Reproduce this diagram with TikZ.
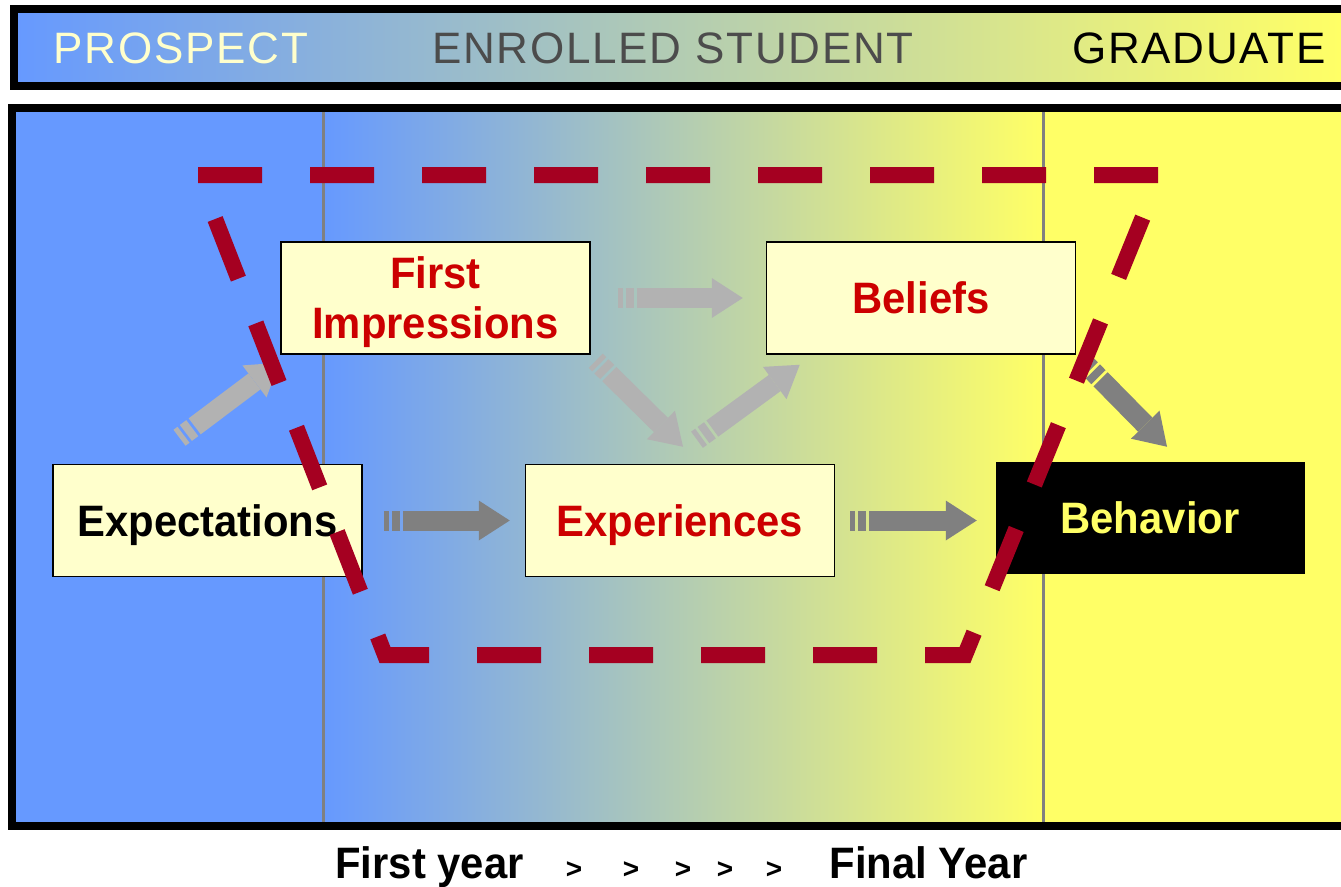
\documentclass[tikz,border=0pt]{standalone}
\usepackage{fontspec}
\setmainfont{Liberation Sans}
\newfontfamily\boxfont[FakeStretch=0.95]{Liberation Sans}
\newfontfamily\headfont[LetterSpace=4]{Liberation Sans}
\usetikzlibrary{arrows.meta, calc}
\definecolor{pblue}{RGB}{102,153,255}
\definecolor{pyellow}{RGB}{255,255,102}
\definecolor{boxfill}{RGB}{255,255,204}
\definecolor{dashred}{RGB}{165,0,33}
\definecolor{txtred}{RGB}{204,0,0}

\begin{document}
\begin{tikzpicture}[x=1pt,y=-1pt,
          stage/.style={draw,line width=1.5pt,fill=boxfill,minimum width=309pt,minimum height=112pt,
            inner sep=0pt,text depth=0pt,align=center,font=\boxfont\bfseries\fontsize{44}{50}\selectfont},
          blk/.style={line width=20pt,dash pattern=on 5pt off 3pt on 8pt off 3pt on 1000pt off 4pt,
            -{Triangle[length=31pt,width=40pt,line width=0pt]}},
          lightblk/.style={blk,draw=black!30},
          darkblk/.style={blk,draw=black!50},
          head/.style={anchor=base,font=\headfont\fontsize{44}{50}\selectfont},
          year/.style={anchor=base,font=\boxfont\bfseries\fontsize{44}{50}\selectfont}
        ]
        \useasboundingbox (0,0) rectangle (1341,886);
        \clip (0,0) rectangle (1341,886);
        \shade[left color=pblue,right color=pyellow] (14,9) rectangle (1341,86);
        \draw[line width=8pt] (14,9) rectangle (1360,86);
        \node[head,text=boxfill] (hprospect) at (181,63) {PROSPECT};
        \node[head,text=black!70] (henrolled) at (673,63) {ENROLLED STUDENT};
        \node[head,text=black] (hgraduate) at (1199,63) {GRADUATE};
        \fill[pblue] (12,108) rectangle (323,826);
        \shade[left color=pblue,right color=pyellow] (323,108) rectangle (1043,826);
        \fill[pyellow] (1043,108) rectangle (1360,826);
        \foreach\x in {323,1043}{\draw[black!50,line width=3pt] (\x,112) -- (\x,830);}
        \draw[line width=8pt] (12,108) rectangle (1360,826);
        \node[stage] (expect) at (207.5,520.5) {Expectations};
        \node[stage,text=txtred] (first) at (435.5,298) {First\\Impressions};
        \node[stage,text=txtred] (beliefs) at (921,298) {Beliefs};
        \node[stage,text=txtred] (exper) at (680,520.5) {Experiences};
        \node[stage,fill=black,draw=none,text=pyellow] (behav) at (1150,517.5) {Behavior};
        \draw[lightblk] ($(expect.north)+(-28,-26)$) -- ($(first.south west)+(-1,8)$);
        \draw[darkblk] ($(expect.east)+(21,0)$) -- ($(exper.west)+(-15,0)$);
        \draw[lightblk] ($(first.east)+(27,0)$) -- ($(beliefs.west)+(-23,0)$);
        \draw[lightblk] ($(first.south east)+(5,6)$) -- ($(exper.north)+(3,-17)$);
        \draw[lightblk] ($(exper.north)+(17,-24)$) -- ($(beliefs.south west)+(34,10)$);
        \draw[darkblk] ($(exper.east)+(15,0)$) -- ($(behav.west)+(-18,3)$);
        \draw[darkblk] ($(beliefs.south east)+(11,11)$) -- ($(behav.north)+(17,-14)$);
        \draw[dashred,line width=16pt,line join=miter,dash pattern=on 64pt off 48pt]
          (198,175) -- (1160,175) -- (965,655) -- (385,655) -- cycle;
        \node[year] (yfirst) at (429.5,878) {First year};
        \node[year] (yfinal) at (928.5,878) {Final Year};
        \foreach\x [count=\i] in {574,631,683,725,774}{\node[anchor=base,font=\bfseries\fontsize{28}{30}\selectfont] (gt\i) at (\x,878) {>};}
      \end{tikzpicture}
\end{document}
